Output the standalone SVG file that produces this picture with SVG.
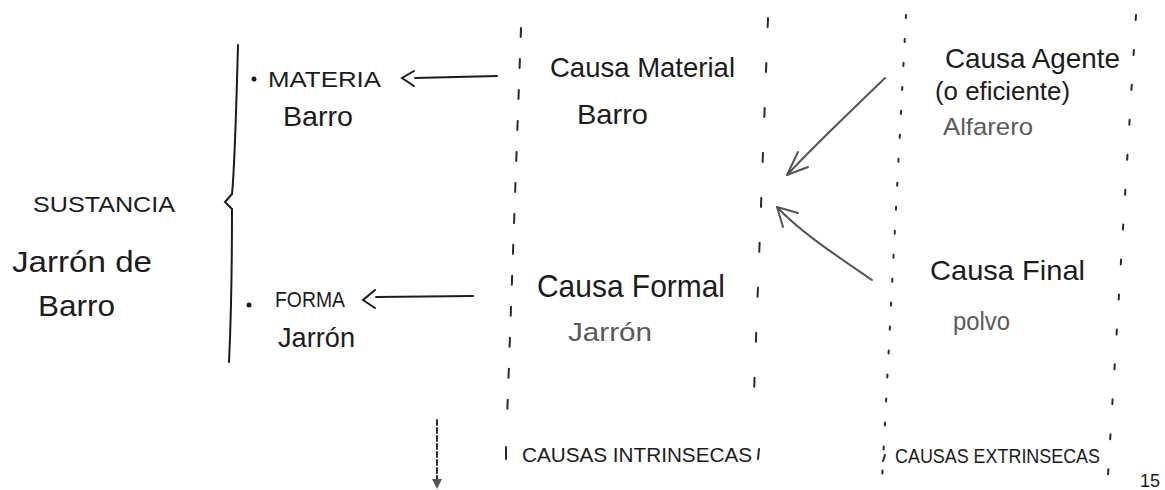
<svg xmlns="http://www.w3.org/2000/svg" width="1165" height="490" viewBox="0 0 1165 490">
<style>
.t{font-family:"Liberation Sans","DejaVu Sans",sans-serif;fill:#1c1c1c}
.g{fill:#5a5a5a}
.caps{font-size:22px}
.hand{font-size:28px}
.ln{stroke:#1c1c1c;stroke-width:2;fill:none;stroke-linecap:round}
.arr{stroke:#555;stroke-width:2;fill:none;stroke-linecap:round;stroke-linejoin:round}
.sep{stroke:#2a2a2a;stroke-width:2;fill:none;stroke-linecap:round}
</style>
<rect width="1165" height="490" fill="#fff"/>

<g id="separators">
<line class="sep" x1="521" y1="28" x2="507" y2="420" stroke-dasharray="9 22"/>
<line class="sep" x1="768" y1="18" x2="753" y2="420" stroke-dasharray="9 36"/>
<line class="sep" x1="906" y1="15" x2="882" y2="480" stroke-dasharray="3 21" stroke-width="2.5"/>
<line class="sep" x1="1136" y1="15" x2="1108" y2="475" stroke-dasharray="5 30"/>
</g>

<g id="sustancia">
<path class="ln" d="M238 45 C236 120 234 175 232 194 L225 202 L232 209 C232 270 231 320 229 362"/>
<text class="t caps" x="33" y="212" textLength="142" lengthAdjust="spacingAndGlyphs">SUSTANCIA</text>
<text class="t" font-size="30" x="12" y="272" textLength="140" lengthAdjust="spacingAndGlyphs">Jarrón de</text>
<text class="t" font-size="30" x="38" y="316" textLength="77" lengthAdjust="spacingAndGlyphs">Barro</text>
</g>

<g id="materia">
<circle cx="254" cy="79" r="2.5" fill="#1c1c1c"/>
<text class="t caps" x="268" y="87" textLength="113" lengthAdjust="spacingAndGlyphs">MATERIA</text>
<text class="t hand" x="283" y="126" textLength="70" lengthAdjust="spacingAndGlyphs">Barro</text>
</g>

<g id="forma">
<circle cx="249" cy="305" r="2.5" fill="#1c1c1c"/>
<text class="t caps" x="275" y="307" textLength="70" lengthAdjust="spacingAndGlyphs">FORMA</text>
<text class="t hand" x="278" y="347" textLength="77" lengthAdjust="spacingAndGlyphs">Jarrón</text>
</g>

<g id="causa-material">
<text class="t hand" x="550" y="77" textLength="185" lengthAdjust="spacingAndGlyphs">Causa Material</text>
<text class="t hand" x="577" y="124" textLength="71" lengthAdjust="spacingAndGlyphs">Barro</text>
</g>

<g id="causa-formal">
<text class="t" font-size="32" x="537" y="297" textLength="188" lengthAdjust="spacingAndGlyphs">Causa Formal</text>
<text class="t g" font-size="26" x="568" y="341" textLength="84" lengthAdjust="spacingAndGlyphs">Jarrón</text>
</g>

<g id="causa-agente">
<text class="t hand" x="945" y="68" textLength="175" lengthAdjust="spacingAndGlyphs">Causa Agente</text>
<text class="t" font-size="26" x="935" y="100" textLength="135" lengthAdjust="spacingAndGlyphs">(o eficiente)</text>
<text class="t g" font-size="24" x="943" y="135" textLength="90" lengthAdjust="spacingAndGlyphs">Alfarero</text>
</g>

<g id="causa-final">
<text class="t hand" x="930" y="280" textLength="155" lengthAdjust="spacingAndGlyphs">Causa Final</text>
<text class="t g" font-size="26" x="953" y="330" textLength="57" lengthAdjust="spacingAndGlyphs">polvo</text>
</g>

<g id="intrinsecas">
<line class="sep" x1="506" y1="447" x2="506" y2="459"/>
<text class="t" font-size="20" x="522" y="462" textLength="230" lengthAdjust="spacingAndGlyphs">CAUSAS INTRINSECAS</text>
<line class="sep" x1="759" y1="449" x2="758" y2="459"/>
</g>

<g id="extrinsecas">
<line class="sep" x1="885" y1="455" x2="883" y2="461"/>
<text class="t" font-size="20" x="895" y="463" textLength="205" lengthAdjust="spacingAndGlyphs">CAUSAS EXTRINSECAS</text>
</g>

<g id="page-number">
<text class="t" font-size="18" x="1140" y="487">15</text>
</g>

<g id="connectors">
<path class="ln" d="M497 76 L415 78"/>
<path class="ln" d="M414 71 L402 78 L414 86"/>
<path class="ln" d="M473 296 L376 297"/>
<path class="ln" d="M375 290 L363 300 L375 308"/>
<path class="arr" d="M885 78 C850 112 815 145 787 175"/>
<path class="arr" d="M798 152 L787 175 L808 167"/>
<path class="arr" d="M872 280 C840 258 800 232 777 207"/>
<path class="arr" d="M783 227 L777 207 L798 213"/>
<path class="sep" stroke="#555" d="M437 420 L437 480" stroke-dasharray="5 3" stroke-width="1.5"/>
<path fill="#555" d="M432 479 L437 489 L442 479 Z"/>
</g>
</svg>
